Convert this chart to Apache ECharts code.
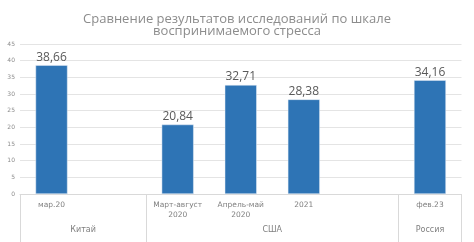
<!DOCTYPE html>
<html><head><meta charset="utf-8">
<script src="https://cdn.jsdelivr.net/npm/echarts@6/dist/echarts.min.js"></script>
<style>html,body{margin:0;padding:0;background:#fff}#c{width:474px;height:242px}</style>
</head><body><div id="c"></div>
<script>
const titleText = 'Сравнение результатов исследований по шкале\nвоспринимаемого стресса';
const categories = ['мар.20', '', 'Март-август\n2020', 'Апрель-май\n2020', '2021', '', 'фев.23'];
const values = [38.66, null, 20.84, 32.71, 28.38, null, 34.16];
const groupNames = ['Китай', 'США', 'Россия'];
const groupSizes = [2, 4, 1];
const yTicks = [0, 5, 10, 15, 20, 25, 30, 35, 40, 45];

const bounds = [0];
groupSizes.forEach(s => bounds.push(bounds[bounds.length - 1] + s));
const centers = groupNames.map((_, i) => (bounds[i] + bounds[i + 1]) / 2);
const centerMap = {};
centers.forEach((c, i) => centerMap[c] = groupNames[i]);

const chart = echarts.init(document.getElementById('c'));
chart.setOption({
  animation: false,
  title: {
    text: titleText, left: 'center', top: 8,
    textStyle: { fontFamily: 'Open Sans', fontSize: 13, fontWeight: 'normal', color: '#8c8c8c', lineHeight: 12.5 }
  },
  grid: { left: 20, right: 12.5, top: 44, bottom: 48, containLabel: false },
  xAxis: [{
    type: 'category', data: categories,
    axisLine: { lineStyle: { color: '#d9d9d9' } },
    axisTick: { show: false },
    axisLabel: { interval: 0, fontFamily: 'DejaVu Sans', fontSize: 7.5, color: '#7f7f7f', margin: 6, lineHeight: 10 }
  }, {
    type: 'value', position: 'bottom', min: 0, max: bounds[bounds.length - 1],
    axisLine: { show: false },
    splitLine: { show: false },
    axisTick: { show: true, customValues: bounds, length: 48, lineStyle: { color: '#d9d9d9' } },
    axisLabel: { customValues: centers, formatter: v => centerMap[v] || '', fontFamily: 'DejaVu Sans', fontSize: 8, color: '#7f7f7f', margin: 32 }
  }],
  yAxis: {
    type: 'value', min: yTicks[0], max: yTicks[yTicks.length - 1], interval: 5,
    axisLine: { show: false }, axisTick: { show: false },
    splitLine: { lineStyle: { color: '#e4e4e4' } },
    axisLabel: { fontFamily: 'DejaVu Sans', fontSize: 6, color: '#8c8c8c', margin: 5 }
  },
  series: [{
    type: 'bar', xAxisIndex: 0, data: values, barWidth: 32,
    itemStyle: { color: '#2e74b5', borderColor: '#e8eef6', borderWidth: 0.5 },
    label: {
      show: true, position: 'top', distance: 2,
      formatter: p => String(p.value.toFixed(2)).replace('.', ','),
      fontFamily: 'Open Sans', fontSize: 12, color: '#595959'
    }
  }]
});
</script></body></html>
